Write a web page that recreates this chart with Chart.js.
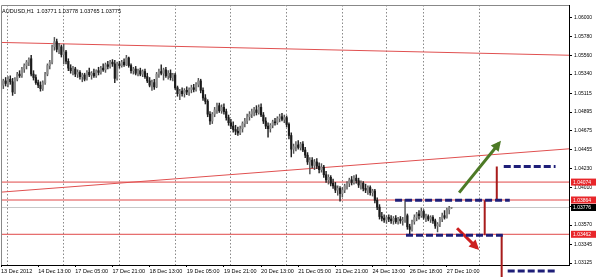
<!DOCTYPE html>
<html>
<head>
<meta charset="utf-8">
<script src="https://cdn.jsdelivr.net/npm/chart.js@4/dist/chart.umd.min.js"></script>
<style>
  html, body { margin: 0; padding: 0; background: #fff; }
  #wrap { width: 596px; height: 277px; }
</style>
</head>
<body>
<div id="wrap"><canvas id="chart"></canvas></div>
<script>
// AUDUSD H1, 13 Dec 21:00 .. 27 Dec 12:00 — one row per bar: [open, high, low, close]
const candles = [
  [1.0512,1.0524,1.0508,1.0521],[1.0521,1.0528,1.0517,1.0526],[1.0526,1.0530,1.0520,1.0523],[1.0523,1.0531,1.0519,1.0528],
  [1.0528,1.0532,1.0522,1.0525],[1.0525,1.0529,1.0509,1.0513],[1.0513,1.0530,1.0511,1.0528],[1.0528,1.0536,1.0526,1.0534],
  [1.0534,1.0538,1.0530,1.0532],[1.0532,1.0542,1.0530,1.0540],[1.0540,1.0546,1.0536,1.0544],[1.0544,1.0550,1.0540,1.0548],
  [1.0548,1.0553,1.0544,1.0551],[1.0552,1.0556,1.0532,1.0534],[1.0534,1.0538,1.0527,1.0530],[1.0530,1.0533,1.0522,1.0524],
  [1.0524,1.0527,1.0518,1.0521],[1.0521,1.0525,1.0514,1.0517],[1.0517,1.0526,1.0515,1.0524],[1.0524,1.0536,1.0522,1.0534],
  [1.0534,1.0546,1.0532,1.0544],[1.0544,1.0550,1.0540,1.0548],[1.0548,1.0568,1.0546,1.0566],[1.0566,1.0577,1.0562,1.0572],
  [1.0572,1.0575,1.0560,1.0563],[1.0563,1.0570,1.0558,1.0566],[1.0566,1.0568,1.0554,1.0557],[1.0557,1.0569,1.0546,1.0560],
  [1.0560,1.0562,1.0546,1.0549],[1.0549,1.0552,1.0538,1.0541],[1.0541,1.0545,1.0535,1.0538],[1.0538,1.0543,1.0533,1.0540],
  [1.0540,1.0542,1.0531,1.0534],[1.0534,1.0539,1.0530,1.0536],[1.0536,1.0538,1.0528,1.0531],[1.0531,1.0535,1.0525,1.0533],
  [1.0533,1.0535,1.0526,1.0528],[1.0528,1.0538,1.0527,1.0536],[1.0536,1.0541,1.0531,1.0533],[1.0533,1.0537,1.0528,1.0535],
  [1.0535,1.0540,1.0530,1.0532],[1.0532,1.0539,1.0530,1.0538],[1.0538,1.0542,1.0533,1.0536],[1.0536,1.0543,1.0534,1.0541],
  [1.0541,1.0546,1.0537,1.0539],[1.0539,1.0547,1.0536,1.0545],[1.0545,1.0549,1.0540,1.0543],[1.0543,1.0550,1.0541,1.0548],
  [1.0548,1.0551,1.0543,1.0546],[1.0546,1.0550,1.0524,1.0529],[1.0529,1.0548,1.0527,1.0546],[1.0546,1.0549,1.0541,1.0544],
  [1.0544,1.0550,1.0542,1.0548],[1.0548,1.0552,1.0543,1.0545],[1.0545,1.0556,1.0544,1.0553],[1.0553,1.0554,1.0542,1.0544],
  [1.0544,1.0546,1.0535,1.0538],[1.0538,1.0542,1.0534,1.0540],[1.0540,1.0543,1.0533,1.0535],[1.0535,1.0540,1.0532,1.0538],
  [1.0538,1.0541,1.0532,1.0534],[1.0534,1.0539,1.0531,1.0537],[1.0537,1.0540,1.0529,1.0531],[1.0531,1.0535,1.0524,1.0526],
  [1.0526,1.0530,1.0519,1.0521],[1.0521,1.0527,1.0515,1.0524],[1.0524,1.0528,1.0516,1.0519],[1.0519,1.0536,1.0518,1.0534],
  [1.0534,1.0540,1.0530,1.0537],[1.0537,1.0545,1.0533,1.0535],[1.0535,1.0541,1.0527,1.0539],[1.0539,1.0542,1.0530,1.0532],
  [1.0532,1.0538,1.0528,1.0535],[1.0535,1.0539,1.0527,1.0530],[1.0530,1.0535,1.0526,1.0533],[1.0533,1.0535,1.0516,1.0518],
  [1.0518,1.0520,1.0508,1.0511],[1.0511,1.0516,1.0504,1.0514],[1.0514,1.0518,1.0508,1.0511],[1.0511,1.0517,1.0507,1.0515],
  [1.0515,1.0519,1.0510,1.0513],[1.0513,1.0518,1.0509,1.0516],[1.0516,1.0521,1.0512,1.0518],[1.0518,1.0522,1.0513,1.0516],
  [1.0516,1.0524,1.0514,1.0522],[1.0522,1.0529,1.0519,1.0526],[1.0526,1.0528,1.0512,1.0515],[1.0515,1.0518,1.0503,1.0506],
  [1.0506,1.0510,1.0499,1.0502],[1.0502,1.0504,1.0484,1.0487],[1.0487,1.0490,1.0475,1.0479],[1.0479,1.0489,1.0476,1.0487],
  [1.0487,1.0495,1.0484,1.0492],[1.0492,1.0500,1.0488,1.0497],[1.0497,1.0500,1.0489,1.0491],[1.0491,1.0498,1.0488,1.0495],
  [1.0495,1.0499,1.0487,1.0490],[1.0490,1.0493,1.0480,1.0483],[1.0483,1.0486,1.0474,1.0477],[1.0477,1.0481,1.0470,1.0473],
  [1.0473,1.0478,1.0466,1.0469],[1.0469,1.0474,1.0463,1.0467],[1.0467,1.0472,1.0462,1.0465],[1.0465,1.0473,1.0463,1.0470],
  [1.0470,1.0478,1.0466,1.0476],[1.0476,1.0482,1.0472,1.0479],[1.0479,1.0487,1.0476,1.0484],[1.0484,1.0490,1.0480,1.0487],
  [1.0487,1.0493,1.0483,1.0490],[1.0490,1.0495,1.0485,1.0492],[1.0492,1.0497,1.0486,1.0489],[1.0489,1.0498,1.0487,1.0495],
  [1.0495,1.0499,1.0484,1.0486],[1.0486,1.0489,1.0476,1.0479],[1.0479,1.0483,1.0470,1.0473],[1.0473,1.0477,1.0460,1.0470],
  [1.0470,1.0476,1.0466,1.0474],[1.0474,1.0480,1.0471,1.0478],[1.0478,1.0482,1.0474,1.0477],[1.0477,1.0484,1.0475,1.0482],
  [1.0482,1.0487,1.0478,1.0484],[1.0484,1.0488,1.0479,1.0481],[1.0481,1.0486,1.0477,1.0483],[1.0483,1.0485,1.0472,1.0475],
  [1.0475,1.0477,1.0458,1.0462],[1.0462,1.0465,1.0437,1.0446],[1.0446,1.0452,1.0441,1.0449],[1.0449,1.0455,1.0444,1.0451],
  [1.0451,1.0456,1.0446,1.0448],[1.0448,1.0454,1.0445,1.0452],[1.0452,1.0455,1.0443,1.0445],[1.0445,1.0448,1.0436,1.0439],
  [1.0439,1.0442,1.0428,1.0431],[1.0431,1.0436,1.0417,1.0433],[1.0433,1.0436,1.0424,1.0427],[1.0427,1.0434,1.0422,1.0431],
  [1.0431,1.0435,1.0423,1.0426],[1.0426,1.0430,1.0418,1.0422],[1.0422,1.0429,1.0419,1.0425],[1.0425,1.0427,1.0413,1.0416],
  [1.0416,1.0420,1.0407,1.0410],[1.0410,1.0416,1.0405,1.0413],[1.0413,1.0415,1.0403,1.0406],[1.0406,1.0411,1.0400,1.0403],
  [1.0403,1.0407,1.0395,1.0398],[1.0398,1.0403,1.0392,1.0400],[1.0400,1.0402,1.0385,1.0394],[1.0394,1.0401,1.0390,1.0398],
  [1.0398,1.0405,1.0395,1.0403],[1.0403,1.0408,1.0399,1.0406],[1.0406,1.0412,1.0402,1.0410],[1.0410,1.0414,1.0404,1.0407],
  [1.0407,1.0415,1.0405,1.0412],[1.0412,1.0416,1.0406,1.0409],[1.0409,1.0412,1.0401,1.0404],[1.0404,1.0409,1.0399,1.0406],
  [1.0406,1.0408,1.0397,1.0400],[1.0400,1.0405,1.0395,1.0398],[1.0398,1.0403,1.0393,1.0401],[1.0401,1.0403,1.0392,1.0395],
  [1.0395,1.0399,1.0391,1.0397],[1.0397,1.0399,1.0383,1.0386],[1.0386,1.0389,1.0375,1.0378],[1.0378,1.0381,1.0364,1.0367],
  [1.0367,1.0372,1.0362,1.0365],[1.0365,1.0369,1.0360,1.0363],[1.0363,1.0368,1.0359,1.0366],[1.0366,1.0369,1.0361,1.0364],
  [1.0364,1.0368,1.0359,1.0362],[1.0362,1.0367,1.0358,1.0365],[1.0365,1.0368,1.0359,1.0361],[1.0361,1.0366,1.0358,1.0364],
  [1.0364,1.0367,1.0359,1.0362],[1.0362,1.0366,1.0357,1.0363],[1.0363,1.0387,1.0360,1.0368],[1.0368,1.0370,1.0352,1.0355],
  [1.0355,1.0358,1.0346,1.0352],[1.0352,1.0363,1.0350,1.0361],[1.0361,1.0369,1.0358,1.0366],[1.0366,1.0372,1.0362,1.0370],
  [1.0370,1.0374,1.0364,1.0368],[1.0368,1.0377,1.0366,1.0373],[1.0373,1.0375,1.0364,1.0366],[1.0366,1.0370,1.0361,1.0367],
  [1.0367,1.0369,1.0362,1.0364],[1.0364,1.0368,1.0360,1.0366],[1.0366,1.0368,1.0359,1.0362],[1.0362,1.0364,1.0353,1.0356],
  [1.0356,1.0360,1.0349,1.0358],[1.0358,1.0366,1.0355,1.0364],[1.0364,1.0371,1.0361,1.0368],[1.0368,1.0374,1.0364,1.0366],
  [1.0366,1.0377,1.0365,1.0375],[1.0375,1.0379,1.0370,1.0377],[1.03771,1.03778,1.03765,1.03775],
]

const headerText = "AUDUSD,H1  1.03771 1.03778 1.03765 1.03775"

// bottom axis: label every 16 bars, dotted grid at each day start
const timeLabels = ["13 Dec 2012", "14 Dec 13:00", "17 Dec 05:00", "17 Dec 21:00", "18 Dec 13:00",
  "19 Dec 05:00", "19 Dec 21:00", "20 Dec 13:00", "21 Dec 05:00", "21 Dec 21:00",
  "24 Dec 13:00", "26 Dec 18:00", "27 Dec 10:00"]
const labelBars = [0, 16, 32, 48, 64, 80, 96, 112, 128, 144, 160, 176, 192]
const dayStarts = [3, 27, 51, 75, 99, 123, 147, 166, 182, 206]

const priceTicks = [1.06000, 1.05780, 1.05560, 1.05340, 1.05115, 1.04895, 1.04675,
  1.04455, 1.04230, 1.04010, 1.03790, 1.03570, 1.03345, 1.03125]

const X_MIN = 0, X_MAX = 244.6
const Y_MIN = 1.03102, Y_MAX = 1.06150

// drawn objects, as [bar, price] end points
const trendUpper   = [[0, 1.05711], [X_MAX, 1.05561]]
const trendLower   = [[0, 1.03956], [X_MAX, 1.04464]]
const levels       = [1.04074, 1.03864, 1.03462]
const bidPrice     = 1.03776
const rangeTop     = [[169.7, 1.0386], [219.1, 1.0386]]
const rangeBottom  = [[174.4, 1.0345], [216.1, 1.0345]]
const targetUp     = [[216.5, 1.04257], [238.8, 1.04257]]
const targetDown   = [[218.2, 1.03033], [238.8, 1.03033]]
const heightMid    = [[208.3, 1.0386], [208.3, 1.0345]]
const heightUp     = [[213.5, 1.04257], [213.5, 1.0386]]
const heightDown   = [[215.6, 1.0345], [215.6, 1.0296]]
const arrowUp      = [[197.3, 1.0395], [214.5, 1.0453]]
const arrowDown    = [[196.4, 1.03533], [205.0, 1.03302]]

const priceBoxes = [
  { price: 1.04074, bg: "#e8262a" },
  { price: 1.03864, bg: "#e8262a" },
  { price: 1.03462, bg: "#e8262a" },
  { price: 1.03776, bg: "#000000" },
]

const FONT = "Liberation Sans"
const pts = (pairs) => pairs.map(([x, y]) => ({ x, y }))

function lineSet(pairs, color, width, extra = {}) {
  return {
    type: "line", data: pts(pairs), borderColor: color, borderWidth: width,
    pointRadius: 0, fill: false, tension: 0, order: 5, ...extra,
  }
}

const bull = "#8c8c8c"
const bear = "#1a1a1a"

const datasets = [
  {
    label: "wicks",
    data: candles.map(([o, h, l, c], i) => ({ x: i, y: [l, h] })),
    backgroundColor: candles.map(([o, h, l, c]) => c >= o ? "#555" : "#222"),
    barThickness: 0.8, grouped: false, order: 2,
  },
  {
    label: "bodies",
    data: candles.map(([o, h, l, c], i) => ({ x: i, y: [o, c] })),
    backgroundColor: candles.map(([o, h, l, c]) => c >= o ? bull : bear),
    barThickness: 1.5, grouped: false, order: 1,
  },
  lineSet(trendUpper, "#e05050", 1),
  lineSet(trendLower, "#e05050", 1),
  ...levels.map((p) => lineSet([[X_MIN, p], [X_MAX, p]], "#e04848", 1)),
  lineSet([[X_MIN, bidPrice], [X_MAX, bidPrice]], "#c8c8c8", 1, { order: 6 }),
  lineSet(rangeTop, "#1e1e78", 3, { borderDash: [7, 3], order: 0 }),
  lineSet(rangeBottom, "#1e1e78", 3, { borderDash: [7, 3], order: 0 }),
  lineSet(targetUp, "#1e1e78", 3, { borderDash: [7, 3], order: 0 }),
  lineSet(targetDown, "#1e1e78", 3, { borderDash: [7, 3], order: 0, clip: false }),
  lineSet(heightMid, "#a81c1c", 2, { order: 0 }),
  lineSet(heightUp, "#a81c1c", 2, { order: 0 }),
  lineSet(heightDown, "#a81c1c", 2, { order: 0, clip: false }),
  lineSet(arrowUp, "#4d7a26", 3, { order: 0, arrowHead: true }),
  lineSet(arrowDown, "#cc1f1f", 3, { order: 0, arrowHead: true }),
]

// arrow heads at the end point of the arrow datasets
const arrowHeads = {
  id: "arrowHeads",
  afterDatasetsDraw(chart) {
    const ctx = chart.ctx
    chart.data.datasets.forEach((ds, i) => {
      if (!ds.arrowHead) return
      const [a, b] = chart.getDatasetMeta(i).data
      const ang = Math.atan2(b.y - a.y, b.x - a.x)
      const len = 10, half = 5
      ctx.save()
      ctx.fillStyle = ds.borderColor
      ctx.translate(b.x, b.y)
      ctx.rotate(ang)
      ctx.beginPath()
      ctx.moveTo(3, 0)
      ctx.lineTo(3 - len, -half)
      ctx.lineTo(3 - len, half)
      ctx.closePath()
      ctx.fill()
      ctx.restore()
    })
  },
}

// symbol line, frame and the coloured price boxes on the right axis
const decorations = {
  id: "decorations",
  afterDraw(chart) {
    const { ctx, chartArea: a } = chart
    const y = chart.scales.y
    ctx.save()
    ctx.strokeStyle = "#888"
    ctx.lineWidth = 1
    ctx.beginPath()
    ctx.moveTo(a.left + 0.5, a.bottom)
    ctx.lineTo(a.left + 0.5, a.top + 0.5)
    ctx.lineTo(a.right, a.top + 0.5)
    ctx.stroke()

    ctx.fillStyle = "#000"
    ctx.font = `5.5px "${FONT}"`
    ctx.textBaseline = "middle"
    ctx.fillText(headerText, a.left + 1, a.top + 6)

    ctx.font = `5px "${FONT}"`
    for (const box of priceBoxes) {
      const py = y.getPixelForValue(box.price)
      ctx.fillStyle = box.bg
      ctx.fillRect(a.right + 2, py - 3.5, 596 - a.right - 2, 7)
      ctx.fillStyle = "#fff"
      ctx.fillText(box.price.toFixed(5), a.right + 4, py + 0.5)
    }
    ctx.restore()
  },
}

new Chart(document.getElementById("chart"), {
  type: "bar",
  data: { datasets },
  options: {
    responsive: true,
    maintainAspectRatio: false,
    animation: false,
    events: [],
    layout: { padding: { top: 1, left: 0, right: 0, bottom: 0 } },
    plugins: { legend: { display: false }, tooltip: { enabled: false } },
    scales: {
      x: {
        type: "linear", position: "bottom", min: X_MIN, max: X_MAX, offset: false,
        afterFit: (s) => { s.height = 12 },
        afterBuildTicks: (s) => { s.ticks = labelBars.map((v) => ({ value: v })) },
        ticks: {
          autoSkip: false, maxRotation: 0, align: "start", padding: 1, color: "#000",
          font: { family: FONT, size: 5.5 },
          callback: (v) => timeLabels[labelBars.indexOf(v)] ?? "",
        },
        grid: { offset: false, drawOnChartArea: false, tickLength: 2, color: "#000" },
        border: { color: "#000" },
      },
      days: {
        type: "linear", position: "top", min: X_MIN, max: X_MAX, offset: false,
        afterFit: (s) => { s.height = 0 },
        afterBuildTicks: (s) => { s.ticks = dayStarts.map((v) => ({ value: v })) },
        ticks: { display: false },
        grid: { offset: false, drawTicks: false, color: "#8a8a8a", lineWidth: 1, borderDash: [1.5, 2] },
        border: { display: false, dash: [1.5, 2] },
      },
      y: {
        type: "linear", position: "right", min: Y_MIN, max: Y_MAX, beginAtZero: false,
        afterFit: (s) => { s.width = 27 },
        afterBuildTicks: (s) => { s.ticks = priceTicks.map((v) => ({ value: v })) },
        ticks: {
          autoSkip: false, padding: 2, color: "#000",
          font: { family: FONT, size: 5 },
          callback: (v) => v.toFixed(5),
        },
        grid: { drawOnChartArea: false, tickLength: 3, color: "#000" },
        border: { color: "#000" },
      },
    },
  },
  plugins: [arrowHeads, decorations],
})
</script>
</body>
</html>
